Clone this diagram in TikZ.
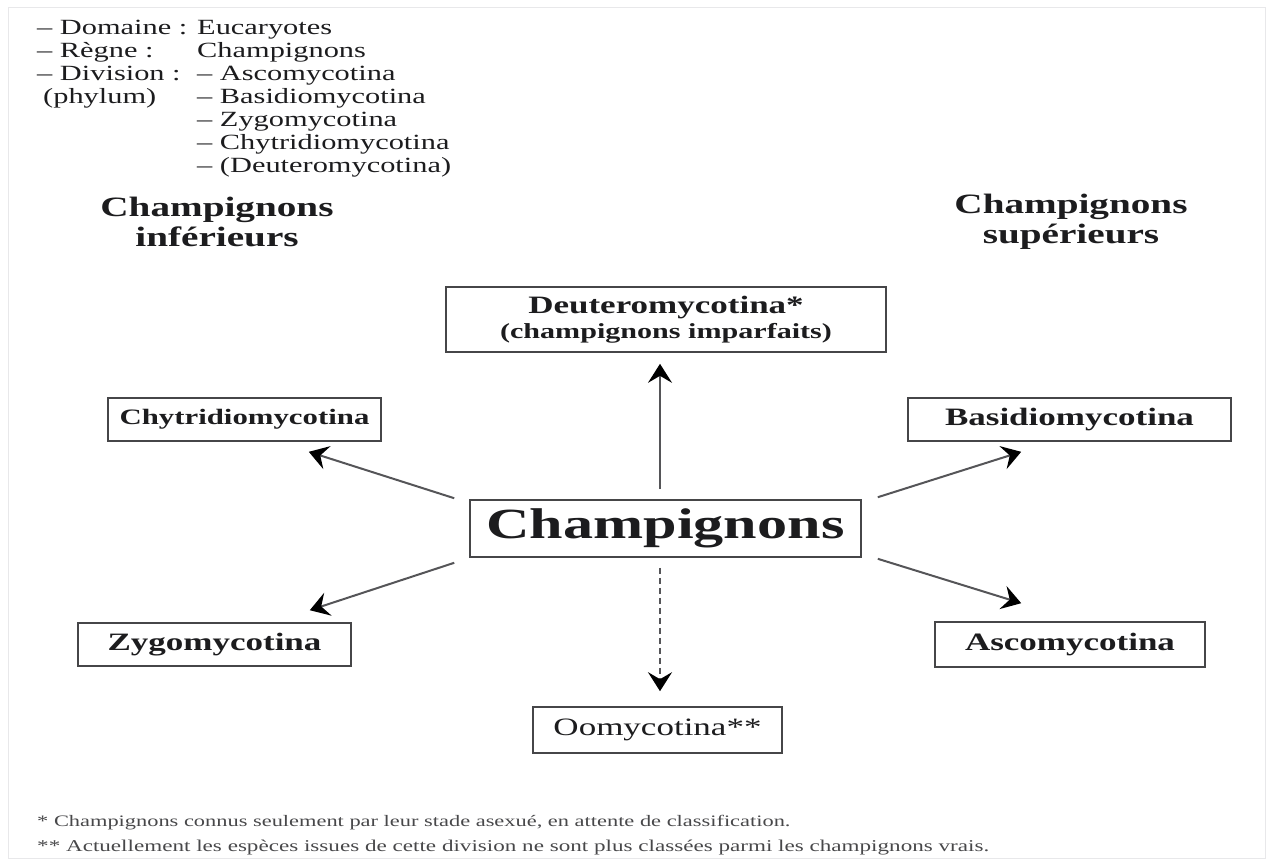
\documentclass[tikz,border=0pt]{standalone}
\usepackage{fontspec}
\setmainfont{Liberation Serif}[FakeStretch=1.4]
\usepackage{tikz}
\usetikzlibrary{arrows.meta}
\definecolor{champink}{RGB}{28,28,30}
\definecolor{champline}{RGB}{70,70,72}
\definecolor{champarrow}{RGB}{85,85,88}
\definecolor{champnote}{RGB}{72,72,74}
\definecolor{champframe}{RGB}{232,232,234}
\tikzset{
  phylbox/.style={draw=champline, line width=1.6pt, fill=white, inner sep=0pt,
    align=center, text=champink, font=\bfseries\fontsize{25}{28}\selectfont},
  headtext/.style={align=center, text=champink, inner sep=0pt,
    font=\bfseries\fontsize{28}{30}\selectfont},
  flow/.style={-{Stealth[length=19pt,width=24pt,inset=7pt,color=black]},
    line width=2pt, draw=champarrow},
  dashflow/.style={flow, dash pattern=on 6pt off 4pt}
}

\begin{document}
\begin{tikzpicture}[x=1pt,y=-1pt]
  \useasboundingbox (0,0) rectangle (1277,863);
  \draw[champframe, line width=1pt] (8,7) rectangle (1265,858);

  % classification en haut a gauche
  \node[anchor=base west, inner sep=0pt, text=champink,
    font=\fontsize{21.7}{23}\selectfont] (taxo) at (37,34) {%
    \begin{tabular}[t]{@{}p{160pt}@{}l@{}}
      -- Domaine :          & Eucaryotes\\
      -- Règne :            & Champignons\\
      -- Division :         & -- Ascomycotina\\
      \hspace*{6pt}(phylum) & -- Basidiomycotina\\
                            & -- Zygomycotina\\
                            & -- Chytridiomycotina\\
                            & -- (Deuteromycotina)
    \end{tabular}};

  \node[headtext] (lowhead) at (217,222) {Champignons\\inférieurs};
  \node[headtext] (highhead) at (1071,222) {Champignons\\supérieurs};

  % les divisions
  \node[phylbox, minimum width=391pt, minimum height=57pt,
    font=\bfseries\fontsize{43}{46}\selectfont] (champ) at (665.5,528.5) {Champignons};
  \node[phylbox, minimum width=440pt, minimum height=65pt] (deutero) at (666,319.5)
    {Deuteromycotina*\\[-3pt]{\fontsize{21.5}{24}\selectfont (champignons imparfaits)}};
  \node[phylbox, minimum width=273pt, minimum height=43pt,
    font=\bfseries\fontsize{22}{26}\selectfont] (chytr) at (244.5,419.5) {Chytridiomycotina};
  \node[phylbox, minimum width=323pt, minimum height=43pt] (basid) at (1069.5,419.5) {Basidiomycotina};
  \node[phylbox, minimum width=273pt, minimum height=43pt] (zygo) at (214.5,644.5) {Zygomycotina};
  \node[phylbox, minimum width=270pt, minimum height=45pt] (asco) at (1070,644.5) {Ascomycotina};
  \node[phylbox, minimum width=249pt, minimum height=46pt,
    font=\fontsize{25}{28}\selectfont] (oomy) at (657.5,730) {Oomycotina**};

  \draw[flow] ([xshift=-5.5pt,yshift=10pt]champ.north) -- ([xshift=-6pt,yshift=-11pt]deutero.south);
  \draw[dashflow] ([xshift=-5.5pt,yshift=-10pt]champ.south) -- ([xshift=2.5pt,yshift=15pt]oomy.north);
  \draw[flow] ([xshift=-15pt,yshift=1pt]champ.north west) -- ([xshift=-73pt,yshift=-10pt]chytr.south east);
  \draw[flow] ([xshift=-15pt,yshift=-5pt]champ.south west) -- ([xshift=-42pt,yshift=12pt]zygo.north east);
  \draw[flow] ([xshift=16pt,yshift=2pt]champ.north east) -- ([xshift=114pt,yshift=-10pt]basid.south west);
  \draw[flow] ([xshift=16pt,yshift=-1pt]champ.south east) -- ([xshift=87pt,yshift=18pt]asco.north west);

  % notes
  \node[anchor=base west, inner sep=0pt, text=champnote,
    font=\fontsize{16}{25}\selectfont] (note1) at (37,826)
    {* Champignons connus seulement par leur stade asexué, en attente de classification.};
  \node[anchor=base west, inner sep=0pt, text=champnote,
    font=\fontsize{16.5}{25}\selectfont] (note2) at (37,851)
    {** Actuellement les espèces issues de cette division ne sont plus classées parmi les champignons vrais.};
\end{tikzpicture}
\end{document}
